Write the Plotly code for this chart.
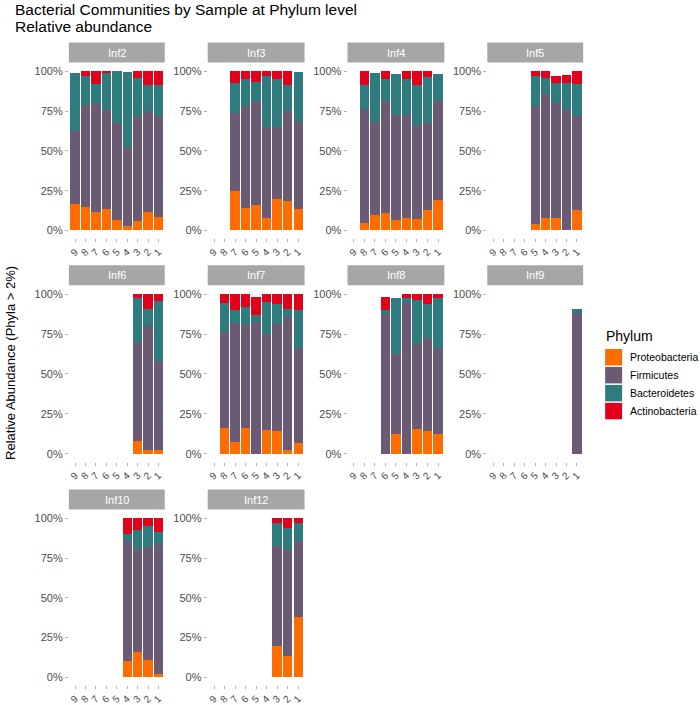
import plotly.graph_objects as go

W, H = 700, 705

samples = ["9", "8", "7", "6", "5", "4", "3", "2", "1"]
phyla = ["Proteobacteria", "Firmicutes", "Bacteroidetes", "Actinobacteria"]
colors = ["#FF6D00", "#6A5A74", "#2E7C80", "#E2001B"]
panels = ["Inf2", "Inf3", "Inf4", "Inf5", "Inf6", "Inf7", "Inf8", "Inf9", "Inf10", "Inf12"]
N = None

# relative abundance (%) per panel, per phylum, samples 9..1
inf2_proteo = [16.3, 14.9, 11.5, 13.4, 6.5, 2.5, 5.6, 11.5, 8.2]
inf2_firm = [46.5, 64.2, 68.6, 62.1, 61.1, 50.0, 66.6, 63.4, 64.0]
inf2_bact = [36.2, 17.8, 12.2, 23.9, 32.4, 46.9, 23.6, 16.7, 19.4]
inf2_actino = [0, 3.1, 7.7, 0.6, 0, 0, 4.2, 8.4, 8.4]

inf3_proteo = [N, N, 24.5, 14.2, 16.1, 7.9, 19.9, 18.6, 13.2]
inf3_firm = [N, N, 49.3, 63.8, 65.5, 57.0, 45.0, 56.3, 55.8]
inf3_bact = [N, N, 18.9, 17.4, 11.7, 32.4, 30.3, 16.7, 30.4]
inf3_actino = [N, N, 7.3, 4.6, 6.7, 2.7, 4.8, 8.4, 0]

inf4_proteo = [N, 4.8, 9.6, 10.7, 6.5, 7.9, 6.9, 12.6, 18.8]
inf4_firm = [N, 71.6, 58.6, 70.5, 66.3, 64.9, 59.6, 55.0, 62.8]
inf4_bact = [N, 14.8, 30.8, 14.0, 25.7, 22.4, 25.1, 28.6, 16.7]
inf4_actino = [N, 8.8, 0, 4.8, 0, 4.8, 8.4, 3.8, 0]

inf5_proteo = [N, N, N, N, 4.0, 8.0, 8.0, 0, 13.0]
inf5_firm = [N, N, N, N, 74.0, 78.0, 72.0, 76.0, 59.0]
inf5_bact = [N, N, N, N, 19.0, 10.0, 13.0, 17.0, 20.0]
inf5_actino = [N, N, N, N, 3.0, 4.0, 4.0, 5.0, 8.0]

inf6_proteo = [N, N, N, N, N, N, 7.7, 2.5, 2.1]
inf6_firm = [N, N, N, N, N, N, 62.1, 77.3, 56.2]
inf6_bact = [N, N, N, N, N, N, 27.7, 10.8, 37.5]
inf6_actino = [N, N, N, N, N, N, 2.5, 9.4, 4.2]

inf7_proteo = [N, 16.0, 7.3, 16.3, 0, 14.6, 14.0, 2.1, 6.7]
inf7_firm = [N, 60.5, 74.6, 64.5, 82.3, 60.4, 67.3, 83.5, 59.6]
inf7_bact = [N, 17.9, 8.1, 11.1, 4.6, 19.8, 12.5, 5.0, 23.7]
inf7_actino = [N, 5.6, 10.0, 8.1, 11.6, 5.2, 6.2, 9.4, 10.0]

inf8_proteo = [N, N, N, 0, 12.1, 0, 15.6, 14.0, 12.1]
inf8_firm = [N, N, N, 87.5, 50.4, 94.4, 53.2, 58.3, 53.9]
inf8_bact = [N, N, N, 2.7, 35.4, 2.9, 27.7, 21.5, 31.5]
inf8_actino = [N, N, N, 8.3, 0, 2.7, 3.5, 6.2, 2.5]

inf9_proteo = [N, N, N, N, N, N, N, N, 0]
inf9_firm = [N, N, N, N, N, N, N, N, 88.0]
inf9_bact = [N, N, N, N, N, N, N, N, 3.0]
inf9_actino = [N, N, N, N, N, N, N, N, 0]

inf10_proteo = [N, N, N, N, N, 10.0, 15.9, 11.1, 2.1]
inf10_firm = [N, N, N, N, N, 75.8, 64.6, 71.1, 82.2]
inf10_bact = [N, N, N, N, N, 4.2, 12.0, 13.2, 7.3]
inf10_actino = [N, N, N, N, N, 10.0, 7.5, 4.6, 8.4]

inf12_proteo = [N, N, N, N, N, N, 19.5, 13.0, 38.0]
inf12_firm = [N, N, N, N, N, N, 63.3, 67.0, 48.0]
inf12_bact = [N, N, N, N, N, N, 14.1, 14.0, 11.0]
inf12_actino = [N, N, N, N, N, N, 3.1, 6.0, 3.0]

panel_data = {
    "Inf2": [inf2_proteo, inf2_firm, inf2_bact, inf2_actino],
    "Inf3": [inf3_proteo, inf3_firm, inf3_bact, inf3_actino],
    "Inf4": [inf4_proteo, inf4_firm, inf4_bact, inf4_actino],
    "Inf5": [inf5_proteo, inf5_firm, inf5_bact, inf5_actino],
    "Inf6": [inf6_proteo, inf6_firm, inf6_bact, inf6_actino],
    "Inf7": [inf7_proteo, inf7_firm, inf7_bact, inf7_actino],
    "Inf8": [inf8_proteo, inf8_firm, inf8_bact, inf8_actino],
    "Inf9": [inf9_proteo, inf9_firm, inf9_bact, inf9_actino],
    "Inf10": [inf10_proteo, inf10_firm, inf10_bact, inf10_actino],
    "Inf12": [inf12_proteo, inf12_firm, inf12_bact, inf12_actino],
}

y_ticks = [0, 25, 50, 75, 100]
y_ticktext = ["0%", "25%", "50%", "75%", "100%"]

FONT = "Liberation Sans, Arial, Helvetica, sans-serif"
TXT = "#4D4D4D"

col_px = [(68, 164), (207, 304), (347, 444), (487, 583)]
row_px = [(63.7, 239), (287, 463), (512, 687)]

def px_x(v):
    return v / W

def px_y(v):
    return 1 - v / H

fig = go.Figure()
layout = dict(shapes=[], annotations=[])

for i, name in enumerate(panels):
    r, c = divmod(i, 4)
    ax = i + 1
    xa = "x" if ax == 1 else f"x{ax}"
    ya = "y" if ax == 1 else f"y{ax}"
    for k, ph in enumerate(phyla):
        fig.add_trace(go.Bar(
            x=samples, y=panel_data[name][k], name=ph,
            marker=dict(color=colors[k], line=dict(width=0)),
            xaxis=xa, yaxis=ya, showlegend=False,
        ))
    x0, x1 = col_px[c]
    y0, y1 = row_px[r]
    kx = "xaxis" if ax == 1 else f"xaxis{ax}"
    ky = "yaxis" if ax == 1 else f"yaxis{ax}"
    layout[kx] = dict(
        domain=[px_x(x0), px_x(x1)], anchor=ya, type="category",
        categoryorder="array", categoryarray=samples, range=[-0.6, 8.6],
        tickmode="linear", tick0=0, dtick=1,
        showgrid=False, zeroline=False, showline=False,
        ticks="outside", ticklen=3, tickcolor="#B3B3B3", tickwidth=1,
        tickangle=-45, tickfont=dict(size=10, color=TXT, family=FONT),
        fixedrange=True,
    )
    layout[ky] = dict(
        domain=[px_y(y1), px_y(y0)], anchor=xa, range=[-5, 105],
        tickvals=y_ticks, ticktext=y_ticktext,
        showgrid=False, zeroline=False, showline=False,
        ticks="outside", ticklen=3, tickcolor="#B3B3B3", tickwidth=1,
        tickfont=dict(size=11, color=TXT, family=FONT),
        fixedrange=True,
    )
    # strip
    layout["shapes"].append(dict(
        type="rect", xref="paper", yref="paper",
        x0=px_x(x0), x1=px_x(x1), y0=px_y(y0 - 1), y1=px_y(y0 - 21),
        fillcolor="#A6A6A6", line=dict(width=0), layer="below",
    ))
    layout["annotations"].append(dict(
        text=name, xref="paper", yref="paper",
        x=px_x((x0 + x1) / 2), y=px_y(y0 - 11), showarrow=False,
        xanchor="center", yanchor="middle",
        font=dict(size=11, color="white", family=FONT),
    ))

# title (two lines)
layout["annotations"].append(dict(
    text="Bacterial Communities by Sample at Phylum level",
    xref="paper", yref="paper", x=px_x(12), y=px_y(10), showarrow=False,
    xanchor="left", yanchor="middle", align="left",
    font=dict(size=15.5, color="black", family=FONT),
))
layout["annotations"].append(dict(
    text="Relative abundance",
    xref="paper", yref="paper", x=px_x(12), y=px_y(27), showarrow=False,
    xanchor="left", yanchor="middle", align="left",
    font=dict(size=15.5, color="black", family=FONT),
))
# y axis title
layout["annotations"].append(dict(
    text="Relative Abundance (Phyla > 2%)",
    xref="paper", yref="paper", x=px_x(10), y=px_y(364), showarrow=False,
    xanchor="center", yanchor="middle", textangle=-90,
    font=dict(size=13, color="black", family=FONT),
))
# legend
layout["annotations"].append(dict(
    text="Phylum", xref="paper", yref="paper", x=px_x(604), y=px_y(337),
    showarrow=False, xanchor="left", yanchor="middle",
    font=dict(size=14, color="black", family=FONT),
))
for k, ph in enumerate(phyla):
    top = 350 + k * 18
    layout["shapes"].append(dict(
        type="rect", xref="paper", yref="paper",
        x0=px_x(605), x1=px_x(622), y0=px_y(top + 16.5), y1=px_y(top),
        fillcolor=colors[k], line=dict(width=0),
    ))
    layout["annotations"].append(dict(
        text=ph, xref="paper", yref="paper", x=px_x(628), y=px_y(top + 8.5),
        showarrow=False, xanchor="left", yanchor="middle",
        font=dict(size=10.5, color="black", family=FONT),
    ))

fig.update_layout(
    width=W, height=H, margin=dict(l=0, r=0, t=0, b=0),
    paper_bgcolor="white", plot_bgcolor="white",
    barmode="stack", bargap=0.1, showlegend=False,
    font=dict(family=FONT),
    **layout,
)

fig.write_html(
    "out.html",
    config={"displayModeBar": False},
    post_script="document.body.style.margin='0';document.body.style.overflow='hidden';",
)
